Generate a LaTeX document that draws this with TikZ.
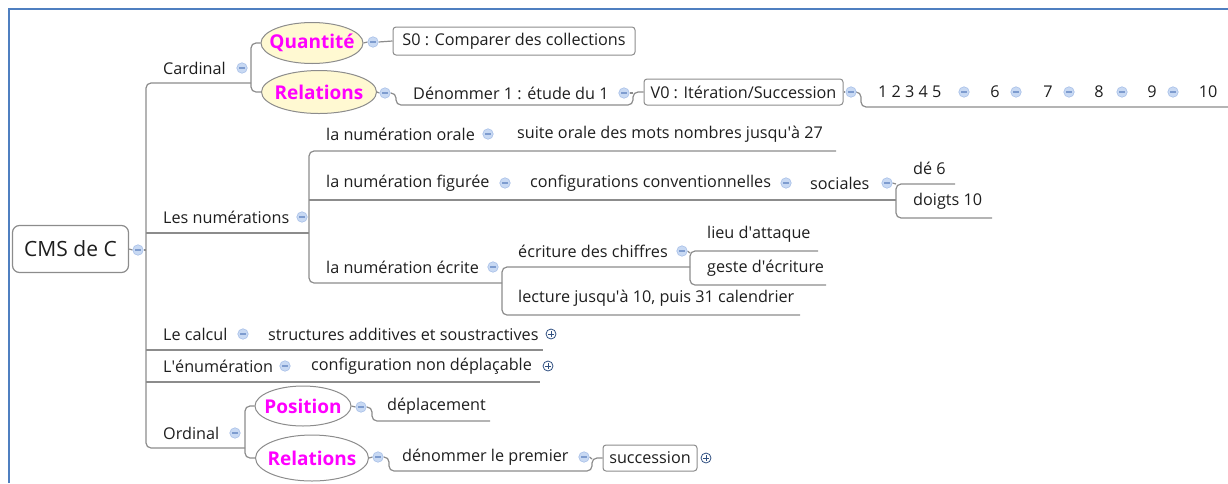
\documentclass[tikz,border=0pt]{standalone}
\usepackage{fontspec}
\setmainfont{Open Sans}
\usetikzlibrary{shapes.geometric,backgrounds}
\definecolor{lnc}{HTML}{8C8C8C}
\definecolor{frm}{HTML}{4F7FC0}
\definecolor{mfill}{HTML}{C8D9F3}
\definecolor{mdraw}{HTML}{A8C0E8}
\definecolor{mline}{HTML}{7E9CCF}
\definecolor{pblue}{HTML}{2F4F80}
\definecolor{yel}{HTML}{FFF9D2}
\definecolor{mag}{HTML}{FF00FF}
\definecolor{txt}{HTML}{1E1E1E}
\newcommand\apo{\textquotesingle}
\tikzset{
  conn/.style={draw=lnc, line width=1.2pt, rounded corners=5pt},
  t/.style={anchor=west, inner sep=0pt, font=\fontsize{16.2}{19}\selectfont, text=txt},
  tc/.style={t, anchor=center},
  bx/.style={draw=lnc, line width=1pt, rounded corners=3pt, fill=white, inner sep=0pt,
    font=\fontsize{16.2}{19}\selectfont, text=txt},
  rootbox/.style={draw=lnc, line width=1.2pt, rounded corners=7pt, fill=white, inner sep=0pt,
    font=\fontsize{21}{24}\selectfont, text=txt, minimum width=116pt, minimum height=47pt},
  el/.style={ellipse, draw=lnc, line width=1pt, inner sep=0pt},
  elt/.style={inner sep=0pt, font=\bfseries\fontsize{19}{22}\selectfont, text=mag},
  minus/.style={circle, inner sep=0pt, minimum size=10.5pt, fill=mfill, draw=mdraw, line width=0.6pt,
    path picture={\draw[mline, line width=1.1pt]
      ([xshift=-2.6pt]path picture bounding box.center) -- ([xshift=2.6pt]path picture bounding box.center);}},
  plus/.style={circle, inner sep=0pt, minimum size=10pt, fill=white, draw=pblue, line width=0.8pt,
    path picture={\draw[pblue, line width=1pt]
      ([xshift=-2.6pt]path picture bounding box.center) -- ([xshift=2.6pt]path picture bounding box.center)
      ([yshift=-2.6pt]path picture bounding box.center) -- ([yshift=2.6pt]path picture bounding box.center);}},
  frame/.style={draw=frm, line width=2.5pt}
}
\begin{document}
\begin{tikzpicture}[x=1pt,y=-1pt]
\useasboundingbox (0,0) rectangle (1228,483);
\draw[frame] (9,483) -- (9,9) -- (1228,9);

% root
\node[rootbox] (root) at (70.5,249) {CMS de C};
\node[minus] (rootm) at (138,250) {};

% Cardinal
\node[t] (card) at (163,68) {Cardinal};
\node[minus] (cardm) at (242,68) {};
\node[el, fill=yel, minimum width=102pt, minimum height=41pt] (quant) at (312,43) {};
\node[elt] (quantT) at (quant.center) {Quantité};
\node[el, fill=yel, minimum width=115pt, minimum height=43pt] (rel1) at (319,92) {};
\node[elt] (rel1T) at (rel1.center) {Relations};
\node[minus] (quantm) at (373,42) {};
\node[bx, minimum width=242pt, minimum height=28pt] (s0) at (514,41) {S0 : Comparer des collections};
\node[minus] (rel1m) at (385,93) {};
\node[t] (denom) at (413,93) {Dénommer 1 : étude du 1};
\node[minus] (denomm) at (624,93) {};
\node[bx, minimum width=199pt, minimum height=26pt] (v0) at (743.5,92) {V0 : Itération/Succession};
\node[minus] (v0m) at (851,92) {};
\node[t] (n15) at (878,92) {1 2 3 4 5};
\node[minus] (n15m) at (964,92) {};
\node[tc] (n6) at (995,92) {6};
\node[minus] (n6m) at (1016,92) {};
\node[tc] (n7) at (1048,92) {7};
\node[minus] (n7m) at (1069,92) {};
\node[tc] (n8) at (1099,92) {8};
\node[minus] (n8m) at (1122,92) {};
\node[tc] (n9) at (1152,92) {9};
\node[minus] (n9m) at (1173,92) {};
\node[tc] (n10) at (1208,92) {10};

% Les numerations
\node[t] (num) at (163,217) {Les numérations};
\node[minus] (numm) at (302,217) {};
\node[t] (orale) at (326,134) {la numération orale};
\node[minus] (oralem) at (488,134) {};
\node[t] (suite) at (517,134) {suite orale des mots nombres jusqu\apo à 27};
\node[t] (fig) at (326,183) {la numération figurée};
\node[minus] (figm) at (505,183) {};
\node[t] (conf) at (530,183) {configurations conventionnelles};
\node[minus] (confm) at (786,183) {};
\node[t] (soc) at (810,183) {sociales};
\node[minus] (socm) at (887,183) {};
\node[t] (de6) at (913,168) {dé 6};
\node[t] (doigts) at (913,201) {doigts 10};
\node[t] (ecr) at (326,267) {la numération écrite};
\node[minus] (ecrm) at (493,267) {};
\node[t] (chif) at (518,251) {écriture des chiffres};
\node[minus] (chifm) at (682,251) {};
\node[t] (lieu) at (707,234) {lieu d\apo attaque};
\node[t] (geste) at (707,268) {geste d\apo écriture};
\node[t] (lect) at (518,298) {lecture jusqu\apo à 10, puis 31 calendrier};

% Le calcul / enumeration
\node[t] (calc) at (163,334) {Le calcul};
\node[minus] (calcm) at (243,334) {};
\node[t] (struct) at (268,334) {structures additives et soustractives};
\node[plus] (structp) at (551,334) {};
\node[t] (enum) at (163,366) {L\apo énumération};
\node[minus] (enumm) at (285,366) {};
\node[t] (cnd) at (311,366) {configuration non déplaçable};
\node[plus] (cndp) at (548,366) {};

% Ordinal
\node[t] (ord) at (163,433) {Ordinal};
\node[minus] (ordm) at (235,433) {};
\node[el, fill=white, minimum width=96pt, minimum height=40pt] (pos) at (303,406) {};
\node[elt] (posT) at (pos.center) {Position};
\node[el, fill=white, minimum width=113pt, minimum height=46pt] (rel2) at (312,458) {};
\node[elt] (rel2T) at (rel2.center) {Relations};
\node[minus] (posm) at (361,407) {};
\node[t] (depl) at (387,406) {déplacement};
\node[minus] (rel2m) at (378,457) {};
\node[t] (dpre) at (402,457) {dénommer le premier};
\node[minus] (dprem) at (584,457) {};
\node[bx, minimum width=94pt, minimum height=26pt] (succ) at (650,458) {succession};
\node[plus] (succp) at (706,458) {};

\begin{scope}[on background layer]
% root and trunk
\draw[conn] (root.east) -- (rootm.west);
\draw[conn] (rootm.east) -- (146,250);
\draw[conn] (251,83) -- (146,83) -- (146,448) -- (245,448);
\draw[conn] (146,233) -- (309,233);
\draw[conn] (146,350) -- (543,350);
\draw[conn] (146,382) -- (540,382);
% cardinal
\draw[conn] (quant.west) -| (251,92) -- (rel1.west);
\draw[conn] (quant.east) -- (quantm.west);
\draw[conn] (quantm.east) -- (s0.west);
\draw[conn] (rel1.east) -- (rel1m.west);
\draw[conn] (rel1m.east) -- (396,93) -- (396,105) -- (633,105) -- (633,92) -- (v0.west);
\draw[conn] (denomm.east) -- (633,93);
\draw[conn] (v0.east) -- (v0m.west);
\draw[conn] (v0m.east) -- (861,92) -- (861,107) -- (1228,107);
% numerations
\draw[conn] (836,151) -- (309,151) -- (309,283) -- (502,283);
\draw[conn] (309,200) -- (896,200);
\draw[conn] (955,184) -- (896,184) -- (896,218) -- (992,218);
\draw[conn] (690,267) -- (502,267) -- (502,315) -- (800,315);
\draw[conn] (818,251) -- (690,251) -- (690,285) -- (826,285);
\draw[conn] (socm.east) -- (896,184);
\draw[conn] (chifm.east) -- (690,253);
% ordinal
\draw[conn] (pos.west) -| (245,458) -- (rel2.west);
\draw[conn] (pos.east) -- (posm.west);
\draw[conn] (posm.east) -- (372,407) -- (372,421) -- (490,421);
\draw[conn] (rel2.east) -- (rel2m.west);
\draw[conn] (rel2m.east) -- (389,457) -- (389,471) -- (592,471) -- (592,458) -- (succ.west);
\draw[conn] (dprem.east) -- (592,459);
\end{scope}
\end{tikzpicture}
\end{document}
